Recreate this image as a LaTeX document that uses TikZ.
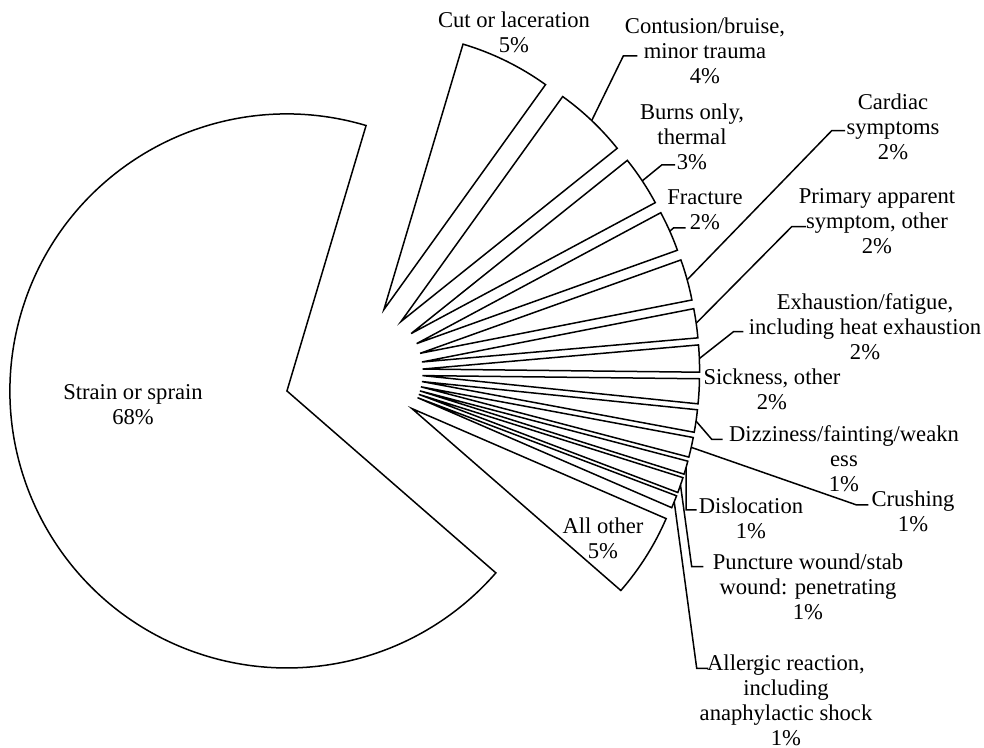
\documentclass[tikz,border=0pt]{standalone}
\usepackage{fontspec}
\setmainfont{Liberation Serif}
\usepackage{tikz}
\usetikzlibrary{calc}

\begin{document}
\begin{tikzpicture}[x=0.5pt, y=0.5pt, line join=miter,
        slice_style/.style={draw=black, line width=0.75pt, fill=white},
        label_style/.style={align=center, inner sep=0pt, font=\fontsize{11.3}{12.5}\selectfont},
        leader_style/.style={draw=black, line width=0.75pt}]

        \useasboundingbox (0,0) rectangle (984,748);
        \coordinate (c) at (353.4,376.3);

        % exploded slices, clockwise from the top
        \draw [slice_style] ($(c)+(196.175:69.2)$) -- ++(73.4:277) arc[start angle=73.4, end angle=318.95, radius=277] -- cycle;
        \draw [slice_style] ($(c)+(63.85:69.2)$) -- ++(73.4:277) arc[start angle=73.4, end angle=54.3, radius=277] -- cycle;
        \draw [slice_style] ($(c)+(46.5:69.2)$) -- ++(54.3:277) arc[start angle=54.3, end angle=38.7, radius=277] -- cycle;
        \draw [slice_style] ($(c)+(33.45:69.2)$) -- ++(38.7:277) arc[start angle=38.7, end angle=28.2, radius=277] -- cycle;
        \draw [slice_style] ($(c)+(23.95:69.2)$) -- ++(28.2:277) arc[start angle=28.2, end angle=19.7, radius=277] -- cycle;
        \draw [slice_style] ($(c)+(15.4:69.2)$) -- ++(19.7:277) arc[start angle=19.7, end angle=11.1, radius=277] -- cycle;
        \draw [slice_style] ($(c)+(8.05:69.2)$) -- ++(11.1:277) arc[start angle=11.1, end angle=5.0, radius=277] -- cycle;
        \draw [slice_style] ($(c)+(2.175:69.2)$) -- ++(5.0:277) arc[start angle=5.0, end angle=-0.65, radius=277] -- cycle;
        \draw [slice_style] ($(c)+(-3.25:69.2)$) -- ++(-0.65:277) arc[start angle=-0.65, end angle=-5.85, radius=277] -- cycle;
        \draw [slice_style] ($(c)+(-8.2:69.2)$) -- ++(-5.85:277) arc[start angle=-5.85, end angle=-10.55, radius=277] -- cycle;
        \draw [slice_style] ($(c)+(-12.625:69.2)$) -- ++(-10.55:277) arc[start angle=-10.55, end angle=-14.7, radius=277] -- cycle;
        \draw [slice_style] ($(c)+(-16.1:69.2)$) -- ++(-14.7:277) arc[start angle=-14.7, end angle=-17.5, radius=277] -- cycle;
        \draw [slice_style] ($(c)+(-19.125:69.2)$) -- ++(-17.5:277) arc[start angle=-17.5, end angle=-20.75, radius=277] -- cycle;
        \draw [slice_style] ($(c)+(-22.075:69.2)$) -- ++(-20.75:277) arc[start angle=-20.75, end angle=-23.4, radius=277] -- cycle;
        \draw [slice_style] ($(c)+(-32.225:69.2)$) -- ++(-23.4:277) arc[start angle=-23.4, end angle=-41.05, radius=277] -- cycle;

        % middle of each outer arc
        \coordinate (m3) at ($(c)+(46.5:346.2)$);
        \coordinate (m4) at ($(c)+(33.45:346.2)$);
        \coordinate (m5) at ($(c)+(23.95:346.2)$);
        \coordinate (m6) at ($(c)+(15.4:346.2)$);
        \coordinate (m7) at ($(c)+(8.05:346.2)$);
        \coordinate (m8) at ($(c)+(2.175:346.2)$);
        \coordinate (m10) at ($(c)+(-8.2:346.2)$);
        \coordinate (m11) at ($(c)+(-12.625:346.2)$);
        \coordinate (m12) at ($(c)+(-16.1:346.2)$);
        \coordinate (m13) at ($(c)+(-19.125:346.2)$);
        \coordinate (m14) at ($(c)+(-22.075:346.2)$);

        \node [label_style](l1) at (133,343.5) {Strain or sprain\\68\%};
        \node [label_style](l2) at (514,715.5) {Cut or laceration\\5\%};
        \node [label_style](l3) at (705,697) {Contusion/bruise,\\minor trauma\\4\%};
        \node [label_style](l4) at (692,611) {Burns only,\\thermal\\3\%};
        \node [label_style](l5) at (705,538.3) {Fracture\\2\%};
        \node [label_style](l6) at (893,621) {Cardiac\\symptoms\\2\%};
        \node [label_style](l7) at (877,527) {Primary apparent\\symptom, other\\2\%};
        \node [label_style](l8) at (865,421) {Exhaustion/fatigue,\\including heat exhaustion\\2\%};
        \node [label_style](l9) at (772,359) {Sickness, other\\2\%};
        \node [label_style](l10) at (844,289.7) {Dizziness/fainting/weakn\\ess\\1\%};
        \node [label_style](l11) at (913,236.3) {Crushing\\1\%};
        \node [label_style](l12) at (751,229.7) {Dislocation\\1\%};
        \node [label_style](l13) at (808,161.5) {Puncture wound/stab\\wound: penetrating\\1\%};
        \node [label_style](l14) at (786,48) {Allergic reaction,\\including\\anaphylactic shock\\1\%};
        \node [label_style](l15) at (603,210) {All other\\5\%};

        % leader lines
        \coordinate (k3) at (623.3,692);   \coordinate (e3) at (637.3,692);
        \coordinate (k4) at (661.7,583);   \coordinate (e4) at (675,583);
        \coordinate (k5) at (673.5,520);   \coordinate (e5) at (685.7,520);
        \coordinate (k6) at (831.7,617.3); \coordinate (e6) at (845,617.3);
        \coordinate (k7) at (791.7,521.3); \coordinate (e7) at (806,521.3);
        \coordinate (k8) at (733.5,416.3); \coordinate (e8) at (743.3,416.3);
        \coordinate (k10) at (711.7,308.7); \coordinate (e10) at (722.7,308.7);
        \coordinate (k11) at (856.7,243);  \coordinate (e11) at (868.3,243);
        \coordinate (k12) at (686,238);    \coordinate (e12) at (696.7,238);
        \coordinate (k13) at (691.7,181.3); \coordinate (e13) at (703.3,181.3);
        \coordinate (k14) at (696.7,79.7); \coordinate (e14) at (708.3,79.7);

        \draw [leader_style] (m3) -- (k3) -- (e3);
        \draw [leader_style] (m4) -- (k4) -- (e4);
        \draw [leader_style] (m5) -- (k5) -- (e5);
        \draw [leader_style] (m6) -- (k6) -- (e6);
        \draw [leader_style] (m7) -- (k7) -- (e7);
        \draw [leader_style] (m8) -- (k8) -- (e8);
        \draw [leader_style] (m10) -- (k10) -- (e10);
        \draw [leader_style] (m11) -- (k11) -- (e11);
        \draw [leader_style] (m12) -- (k12) -- (e12);
        \draw [leader_style] (m13) -- (k13) -- (e13);
        \draw [leader_style] (m14) -- (k14) -- (e14);

        \end{tikzpicture}
\end{document}
